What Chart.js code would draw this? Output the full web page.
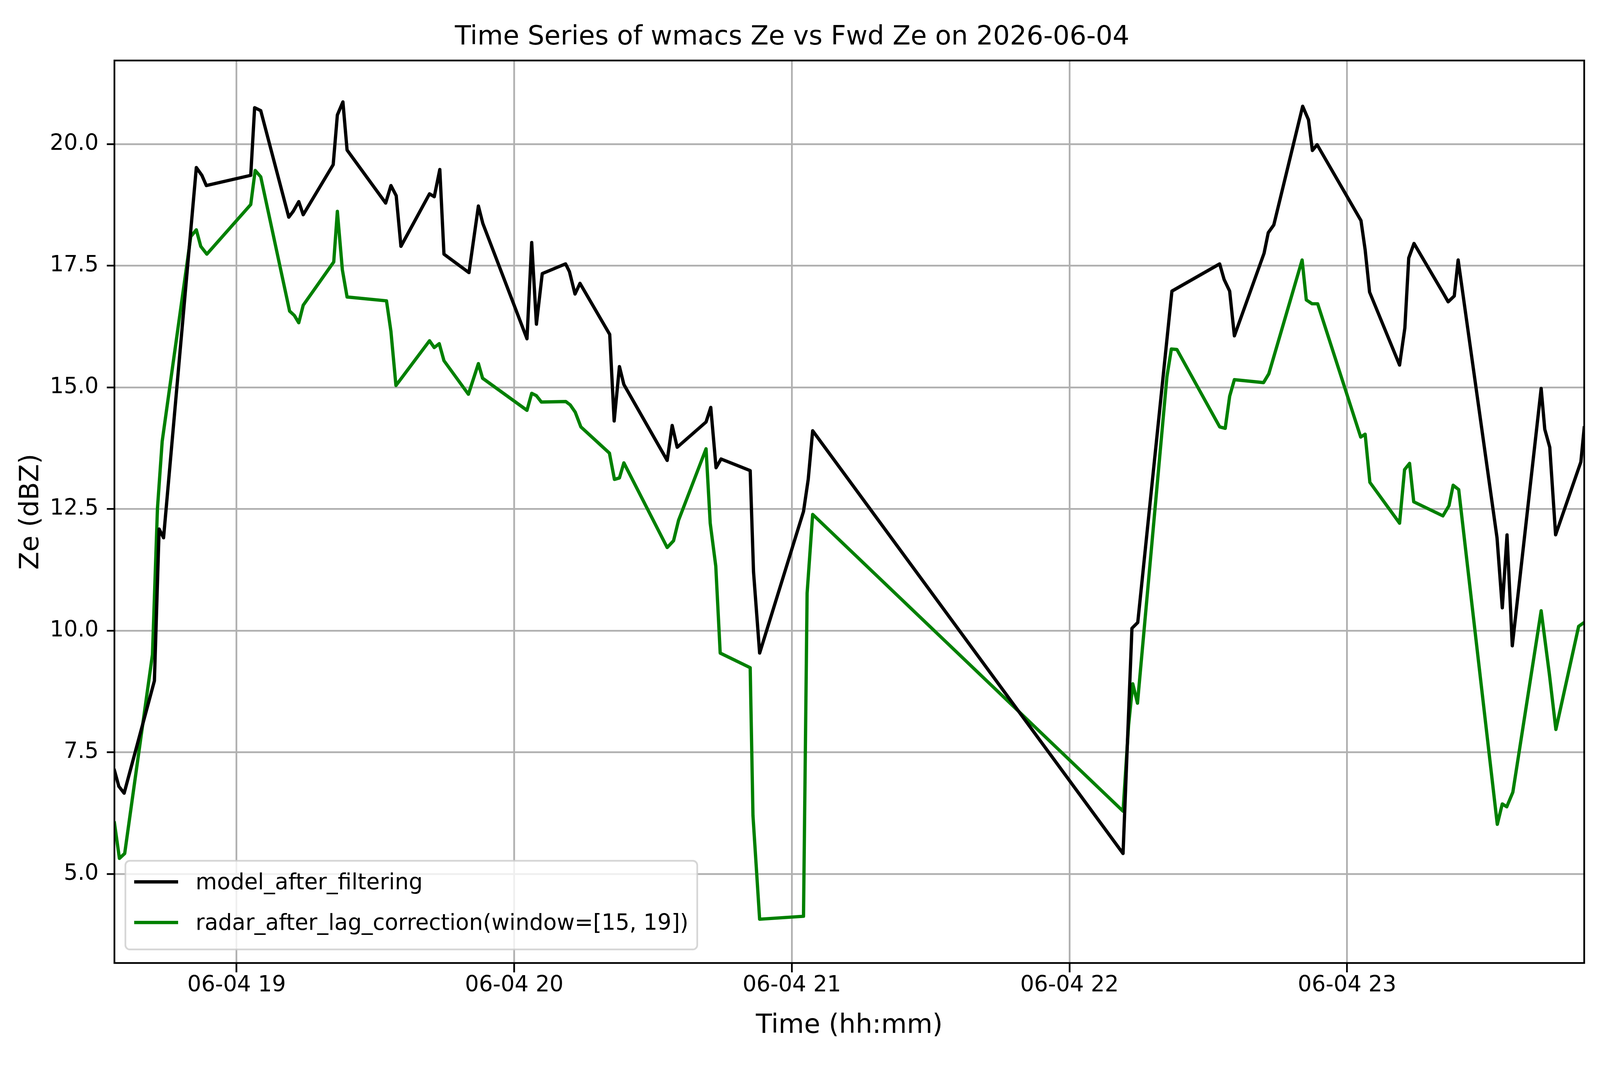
<!DOCTYPE html>
<html>
<head>
<meta charset="utf-8">
<style>
  html, body { margin: 0; padding: 0; background: #fff; overflow: hidden; }
  canvas { display: block; }
</style>
<script src="https://cdn.jsdelivr.net/npm/chart.js@4.4.1/dist/chart.umd.min.js"></script>
</head>
<body>
<canvas id="chart"></canvas>
<script>
// time in decimal hours of 2026-06-04, Ze in dBZ
const modelTimes = [18.560, 18.576, 18.595, 18.704, 18.721, 18.737, 18.855, 18.875, 18.891, 19.051,
  19.065, 19.087, 19.188, 19.204, 19.224, 19.240, 19.348, 19.363, 19.383, 19.398,
  19.537, 19.556, 19.575, 19.592, 19.695, 19.712, 19.732, 19.747, 19.837, 19.871,
  19.887, 20.046, 20.063, 20.080, 20.101, 20.185, 20.199, 20.219, 20.237, 20.344,
  20.360, 20.379, 20.395, 20.551, 20.569, 20.587, 20.691, 20.708, 20.727, 20.745,
  20.850, 20.862, 20.884, 21.042, 21.059, 21.075, 22.193, 22.225, 22.246, 22.369,
  22.541, 22.557, 22.577, 22.594, 22.701, 22.716, 22.736, 22.840, 22.861, 22.875,
  22.892, 23.050, 23.065, 23.081, 23.189, 23.208, 23.222, 23.241, 23.345, 23.364,
  23.386, 23.400, 23.540, 23.559, 23.576, 23.595, 23.699, 23.712, 23.730, 23.751,
  23.842, 23.854];
const modelZe = [7.13, 6.80, 6.66, 8.97, 12.09, 11.91, 19.52, 19.36, 19.15, 19.36,
  20.75, 20.69, 18.50, 18.62, 18.82, 18.55, 19.58, 20.60, 20.87, 19.88,
  18.79, 19.15, 18.94, 17.90, 18.98, 18.92, 19.48, 17.74, 17.36, 18.73,
  18.37, 16.00, 17.98, 16.30, 17.34, 17.54, 17.38, 16.92, 17.14, 16.09,
  14.31, 15.43, 15.06, 13.50, 14.22, 13.77, 14.29, 14.59, 13.35, 13.53,
  13.29, 11.21, 9.54, 12.45, 13.11, 14.11, 5.42, 10.05, 10.17, 16.98,
  17.54, 17.22, 16.98, 16.06, 17.76, 18.18, 18.34, 20.78, 20.50, 19.87,
  19.99, 18.43, 17.83, 16.96, 15.46, 16.22, 17.66, 17.96, 16.95, 16.76,
  16.88, 17.62, 11.91, 10.47, 11.97, 9.69, 14.98, 14.14, 13.77, 11.97,
  13.47, 14.17];

const radarTimes = [18.560, 18.578, 18.597, 18.666, 18.697, 18.715, 18.732, 18.835, 18.855, 18.871,
  18.893, 19.051, 19.067, 19.087, 19.191, 19.208, 19.224, 19.240, 19.350, 19.363,
  19.381, 19.398, 19.540, 19.556, 19.574, 19.695, 19.712, 19.730, 19.747, 19.835,
  19.871, 19.886, 20.046, 20.063, 20.080, 20.098, 20.186, 20.202, 20.220, 20.240,
  20.343, 20.361, 20.379, 20.395, 20.551, 20.574, 20.592, 20.691, 20.706, 20.726,
  20.742, 20.850, 20.860, 20.884, 21.042, 21.055, 21.075, 22.193, 22.213, 22.228,
  22.245, 22.351, 22.367, 22.387, 22.541, 22.561, 22.577, 22.594, 22.699, 22.718,
  22.838, 22.853, 22.874, 22.894, 23.049, 23.065, 23.082, 23.189, 23.207, 23.225,
  23.240, 23.345, 23.367, 23.382, 23.402, 23.541, 23.559, 23.575, 23.597, 23.699,
  23.729, 23.752, 23.834, 23.854];
const radarZe = [6.05, 5.32, 5.42, 8.24, 9.51, 12.51, 13.89, 18.10, 18.24, 17.90,
  17.74, 18.76, 19.46, 19.33, 16.57, 16.48, 16.33, 16.69, 17.58, 18.62,
  17.42, 16.86, 16.78, 16.15, 15.04, 15.96, 15.82, 15.90, 15.55, 14.86,
  15.49, 15.19, 14.53, 14.88, 14.83, 14.70, 14.71, 14.64, 14.49, 14.19,
  13.65, 13.11, 13.14, 13.45, 11.71, 11.85, 12.27, 13.74, 12.21, 11.33,
  9.54, 9.24, 6.20, 4.07, 4.13, 10.77, 12.39, 6.29, 8.06, 8.91,
  8.51, 15.22, 15.79, 15.78, 14.19, 14.16, 14.82, 15.16, 15.10, 15.28,
  17.62, 16.80, 16.72, 16.72, 13.98, 14.04, 13.05, 12.21, 13.31, 13.44,
  12.65, 12.36, 12.57, 12.99, 12.90, 6.02, 6.44, 6.38, 6.68, 10.41,
  9.09, 7.97, 10.09, 10.17];

const seriesLabels = ['model_after_filtering', 'radar_after_lag_correction(window=[15, 19])'];
const seriesColors = ['#000000', '#008000'];
const xTicks = [19, 20, 21, 22, 23];
const yTicks = [5, 7.5, 10, 12.5, 15, 17.5, 20];
const dayLabel = '06-04';

const toPoints = (times, values) => times.map((t, i) => ({ x: t, y: values[i] }));

// layout was measured on a 5062x2740 figure; scale to the actual viewport
const W = window.innerWidth;
const H = window.innerHeight;
const S = W / 5062;
const SY = H / 2740;
const px = (v) => v * S;
const py = (v) => v * SY;
const LH = 1.2 * SY / S; // line height factor so vertical offsets follow SY

Chart.defaults.font.family = "'DejaVu Sans', sans-serif";
Chart.defaults.color = '#000';

// box around the axes + legend in the lower left corner, matplotlib style
const framePlugin = {
  id: 'frame',
  afterDatasetsDraw(chart) {
    const { ctx, chartArea: a } = chart;
    ctx.save();
    ctx.strokeStyle = '#000';
    ctx.lineWidth = px(5.5);
    ctx.strokeRect(a.left, a.top, a.right - a.left, a.bottom - a.top);
    ctx.restore();
  },
  afterDraw(chart) {
    const { ctx, chartArea: a } = chart;
    ctx.save();
    ctx.font = px(69.4) + "px 'DejaVu Sans'";
    const sets = chart.data.datasets;
    const textW = Math.max(...sets.map(d => ctx.measureText(d.label).width));
    const left = a.left + px(34.7);
    const bottom = a.bottom - py(34.7);
    const w = px(27.8 + 139 + 55.5) + textW + px(27.8);
    const h = py(227);
    const top = bottom - h;
    ctx.beginPath();
    ctx.roundRect(left, top, w, h, px(14));
    ctx.fillStyle = 'rgba(255,255,255,0.8)';
    ctx.fill();
    ctx.strokeStyle = 'rgba(204,204,204,0.8)';
    ctx.lineWidth = px(5.5);
    ctx.stroke();
    sets.forEach((d, i) => {
      const cy = top + py(54 + i * 104);
      ctx.beginPath();
      ctx.moveTo(left + px(27.8), cy);
      ctx.lineTo(left + px(27.8 + 139), cy);
      ctx.strokeStyle = d.borderColor;
      ctx.lineWidth = px(10.4);
      ctx.lineCap = 'butt';
      ctx.stroke();
      ctx.fillStyle = '#000';
      ctx.textAlign = 'left';
      ctx.textBaseline = 'middle';
      ctx.fillText(d.label, left + px(27.8 + 139 + 55.5), cy + py(4));
    });
    ctx.restore();
  }
};

const canvas = document.getElementById('chart');
canvas.width = W;
canvas.height = H;
canvas.style.width = W + 'px';
canvas.style.height = H + 'px';

const gridBase = { color: '#b0b0b0', lineWidth: px(5.5), tickColor: '#000', tickWidth: px(5.5) };

new Chart(canvas, {
  type: 'line',
  data: {
    datasets: [
      { label: seriesLabels[0], data: toPoints(modelTimes, modelZe) },
      { label: seriesLabels[1], data: toPoints(radarTimes, radarZe) }
    ].map((d, i) => Object.assign(d, {
      borderColor: seriesColors[i],
      backgroundColor: seriesColors[i],
      borderWidth: px(10.4),
      pointRadius: 0,
      tension: 0,
      fill: false,
      borderJoinStyle: 'round',
      borderCapStyle: 'square'
    }))
  },
  options: {
    responsive: false,
    animation: false,
    layout: { padding: { left: 0, right: px(50), top: 0, bottom: 0 } },
    plugins: {
      legend: { display: false },
      tooltip: { enabled: false },
      title: {
        display: true,
        text: 'Time Series of wmacs Ze vs Fwd Ze on 2026-06-04',
        font: { size: px(83.3), weight: 'normal', lineHeight: LH },
        color: '#000',
        padding: { top: py(47), bottom: py(155 - 47 - 100) }
      }
    },
    scales: {
      x: {
        type: 'linear',
        min: 18.56,
        max: 23.854,
        afterFit: (axis) => { axis.height = py(274); },
        afterBuildTicks: (axis) => { axis.ticks = xTicks.map(v => ({ value: v })); },
        ticks: {
          autoSkip: false,
          maxRotation: 0,
          padding: py(-7),
          font: { size: px(69.4), lineHeight: LH },
          color: '#000',
          callback: (v) => dayLabel + ' ' + String(v).padStart(2, '0')
        },
        grid: Object.assign({ tickLength: py(24) }, gridBase),
        border: { display: false },
        title: {
          display: true,
          text: 'Time (hh:mm)',
          font: { size: px(83.3), lineHeight: LH },
          color: '#000',
          padding: { top: 0, bottom: py(63) }
        }
      },
      y: {
        type: 'linear',
        min: 3.17,
        max: 21.72,
        afterFit: (axis) => { axis.width = px(362); },
        afterBuildTicks: (axis) => { axis.ticks = yTicks.map(v => ({ value: v })); },
        ticks: {
          autoSkip: false,
          padding: px(26),
          font: { size: px(69.4) },
          color: '#000',
          callback: (v) => Number(v).toFixed(1)
        },
        grid: Object.assign({ tickLength: px(24) }, gridBase),
        border: { display: false },
        title: {
          display: true,
          text: 'Ze (dBZ)',
          font: { size: px(83.3) },
          color: '#000',
          padding: { top: px(50), bottom: 0 }
        }
      }
    }
  },
  plugins: [framePlugin]
});
</script>
</body>
</html>
